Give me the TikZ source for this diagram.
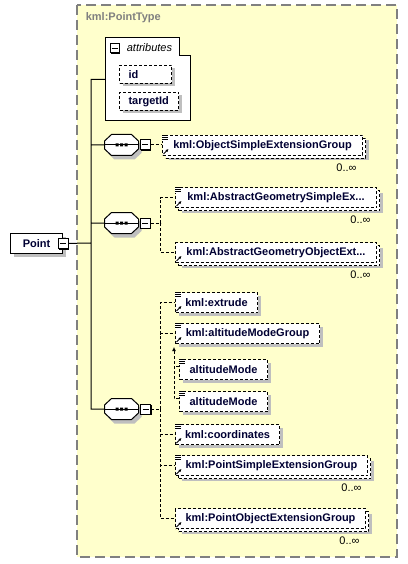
\documentclass[tikz,border=0pt]{standalone}
\usepackage{fontspec}
\setmainfont{Liberation Sans}
\usetikzlibrary{positioning,shadows,arrows.meta}
\definecolor{bgclr}{rgb}{1, 1, 0.8}
\definecolor{bordclr}{rgb}{0.5, 0.5, 0.5}
\definecolor{shadeclr}{rgb}{0.75, 0.75, 0.75}
\definecolor{txtclr}{rgb}{0, 0, 0.2}
\tikzset{ %
  ,>={Latex[length=4pt, width=4pt]}
  ,every node/.style={font=\fontsize{11}{13}\selectfont\bfseries, text=txtclr}
  ,conn/.style={dash pattern=on 3pt off 2pt}
  ,shadowed/.style={drop shadow={shadow xshift=3pt, shadow yshift=-3pt, fill=shadeclr, opacity=1}}
  ,elembox/.style={draw, dash pattern=on 3pt off 2pt, fill=white, rectangle, anchor=north west, minimum height=20pt, inner xsep=8pt, inner ysep=2pt}
  ,elem/.style={elembox, shadowed}
  ,multi/.style={elembox, drop shadow={shadow xshift=6pt, shadow yshift=-5pt, fill=shadeclr, opacity=1}, copy shadow={shadow xshift=3pt, shadow yshift=-3pt, draw=black, fill=white, opacity=1, dash pattern=on 3pt off 2pt}}
  ,attrbox/.style={draw, dash pattern=on 3pt off 2pt, fill=white, rectangle, anchor=north west, minimum height=18pt, inner xsep=9pt, inner ysep=2pt, align=left, shadowed}
  ,typebox/.style={draw, fill=white, rectangle, anchor=north west, minimum width=52pt, minimum height=20pt, shadowed}
  ,compositor/.style={rectangle, minimum width=33pt, minimum height=20pt, inner sep=0pt}
  ,toggle/.style={draw, fill=white, rectangle, minimum size=10pt, inner sep=0pt, drop shadow={shadow xshift=1pt, shadow yshift=-1pt, fill=black, opacity=1}, path picture={
      \draw[line width=1pt] ([xshift=-3pt]path picture bounding box.center) -- ([xshift=3pt]path picture bounding box.center);}}
  ,occurs/.style={font=\fontsize{11}{13}\selectfont, text=black, inner sep=0pt}
}
% sequence compositor drawn round a placeholder node
\newcommand{\seqshape}[1]{%
  \draw[fill=white, drop shadow={shadow xshift=3pt, shadow yshift=-4pt, fill=shadeclr, opacity=1}]
    ([yshift=4pt]#1.west) -- ([xshift=7pt]#1.north west) -- ([xshift=-7pt]#1.north east) -- ([yshift=4pt]#1.east)
    -- ([yshift=-4pt]#1.east) -- ([xshift=-7pt]#1.south east) -- ([xshift=7pt]#1.south west) -- ([yshift=-4pt]#1.west) -- cycle;
  \draw (#1.west) -- (#1.east);
  \fill ([xshift=-6pt, yshift=-1.5pt]#1.center) rectangle ++(3pt, 3pt)
    ([xshift=-1.5pt, yshift=-1.5pt]#1.center) rectangle ++(3pt, 3pt)
    ([xshift=3pt, yshift=-1.5pt]#1.center) rectangle ++(3pt, 3pt);}
% small marks of the element boxes
\newcommand{\elemlines}[1]{%
  \fill[white] ([yshift=-1pt]#1.north west) rectangle ++(6, 5);
  \draw[line width=1pt] ([yshift=-0.5pt]#1.north west) -- ++(6, 0)
    ([yshift=-2.5pt]#1.north west) -- ++(6, 0)
    ([yshift=-4.5pt]#1.north west) -- ++(6, 0);}
\newcommand{\elemref}[1]{%
  \draw[line width=1pt, -{Latex[length=3pt, width=3pt]}] ([xshift=1.5pt, yshift=2pt]#1.south west) -- ++(5, -5);}

\begin{document}
\begin{tikzpicture}[x=1pt, y=-1pt, line width=1pt]
  \useasboundingbox (0,0) rectangle (407,564);
  \draw[draw=bordclr, fill=bgclr, line width=1.5pt, dash pattern=on 10pt off 5pt] (77,5) rectangle (397,557);
  \draw
  node[anchor=west, text=bordclr] (ptype) at (82,18) {kml:PointType}
  node[typebox] (point) at (10,233) {Point}
  node[toggle] (tgpoint) at (point.east) {}
  node[minimum width=84pt, minimum height=82pt, anchor=north west, inner sep=0pt] (attr) at (105,38) {};
  % attributes tab
  \draw[fill=white] (attr.north west) -- ([xshift=-11pt]attr.north east) |- ([yshift=-18pt]attr.north east) -- (attr.south east) -- (attr.south west) -- cycle;
  \draw
  node[toggle, minimum size=9pt] (tgattr) at (114.5,48.5) {}
  node[anchor=west, font=\fontsize{11}{13}\selectfont\itshape, text=black] (attrlbl) at (123,48) {attributes}
  node[attrbox, text width=34pt] (id) at (119,65) {id}
  node[attrbox, text width=41pt] (tid) at (119,92) {targetId}
  node[compositor] (seqA) at (121.5,145) {}
  node[compositor] (seqB) at (121.5,223) {}
  node[compositor] (seqC) at (121.5,409) {};
  \seqshape{seqA}
  \seqshape{seqB}
  \seqshape{seqC}
  \draw
  node[toggle, right=1pt of seqA] (tgA) {}
  node[toggle, right=1pt of seqB] (tgB) {}
  node[toggle, right=1.5pt of seqC] (tgC) {};
  \draw
  node[multi, minimum width=200pt] (osx) at (162,135) {kml:ObjectSimpleExtensionGroup}
  node[occurs, below left=7pt and 6pt of osx.south east] (osxn) {0..∞}
  node[multi, minimum width=201pt] (agsx) at (175,187) {kml:AbstractGeometrySimpleEx...}
  node[occurs, below left=7pt and 6pt of agsx.south east] (agsxn) {0..∞}
  node[multi, minimum width=201pt] (agox) at (175,242) {kml:AbstractGeometryObjectExt...}
  node[occurs, below left=7pt and 6pt of agox.south east] (agoxn) {0..∞}
  node[elem, minimum width=82pt] (ext) at (175,292) {kml:extrude}
  node[elem, minimum width=144pt] (amg) at (175,323) {kml:altitudeModeGroup}
  node[elem, minimum width=88pt] (amA) at (179,359) {altitudeMode}
  node[elem, minimum width=88pt] (amB) at (179,391) {altitudeMode}
  node[elem, minimum width=104pt] (coo) at (175,424) {kml:coordinates}
  node[multi, minimum width=192pt] (psx) at (175,455) {kml:PointSimpleExtensionGroup}
  node[occurs, below left=7pt and 6pt of psx.south east] (psxn) {0..∞}
  node[multi, minimum width=190pt] (pox) at (175,508) {kml:PointObjectExtensionGroup}
  node[occurs, below left=7pt and 6pt of pox.south east] (poxn) {0..∞};
  \elemlines{osx} \elemref{osx}
  \elemlines{agsx} \elemref{agsx}
  \elemref{agox}
  \elemlines{ext} \elemref{ext}
  \elemlines{amg} \elemref{amg}
  \elemlines{amA}
  \elemlines{amB}
  \elemlines{coo} \elemref{coo}
  \elemlines{psx} \elemref{psx}
  \elemref{pox}
  % connectors
  \coordinate (spine) at (91,243);
  \coordinate[right=10pt of tgB] (jB);
  \coordinate[right=9pt of tgC] (jC);
  \draw (tgpoint) -- (spine) (spine) |- (attr) (spine) |- (seqA) (spine) |- (seqB) (spine) |- (seqC);
  \draw[conn] (tgA) -- (tgA -| osx.west);
  \draw[conn] (tgB) -- (jB) (jB) |- (agsx) (jB) |- (agox);
  \draw[conn] (tgC) -- (jC) (jC) |- (ext) (jC) |- (amg) (jC) |- (coo) (jC) |- (psx) (jC) |- (pox);
  \draw[conn, ->] ([yshift=3pt]amB.west) -| ([xshift=-1pt, yshift=-3pt]amg.south west);
  \draw[conn] ([yshift=3pt]amA.west) -- ++(-5,0);
\end{tikzpicture}
\end{document}
